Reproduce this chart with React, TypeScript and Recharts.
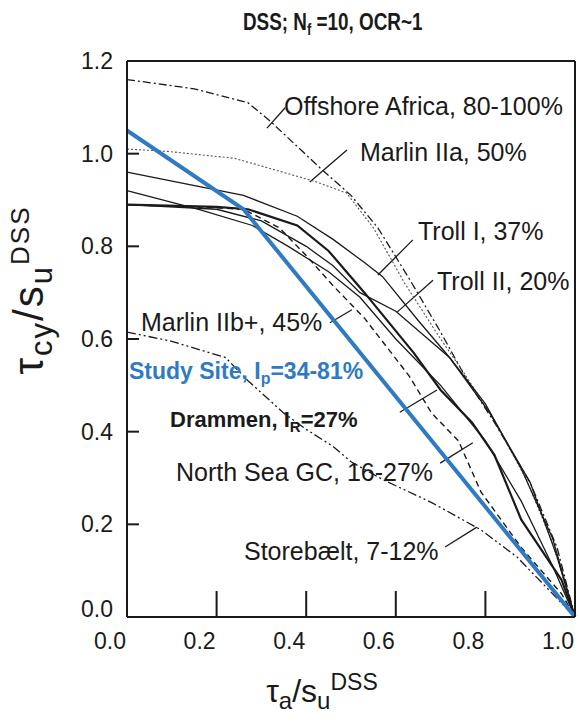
import { LineChart, Line, XAxis, YAxis, ReferenceLine } from 'recharts';

const FONT = '"Liberation Sans", Arial, Helvetica, sans-serif';
const INK = '#1a1a1a';
const BLUE = '#2f7bc3';

const xTicks = [0, 0.2, 0.4, 0.6, 0.8, 1.0];
const yTicks = [0, 0.2, 0.4, 0.6, 0.8, 1.0, 1.2];

// each curve as [tau_a / su, tau_cy / su] pairs
const offshoreAfrica = [
  [0, 1.16], [0.15, 1.14], [0.27, 1.11], [0.32, 1.07], [0.43, 0.97], [0.5, 0.91],
  [0.56, 0.84], [0.63, 0.73], [0.7, 0.615], [0.76, 0.51], [0.82, 0.42], [0.9, 0.29],
  [0.96, 0.15], [1, 0],
];
const marlinIIa = [
  [0, 1.01], [0.09, 1.005], [0.24, 0.99], [0.42, 0.94], [0.49, 0.915], [0.55, 0.84],
  [0.62, 0.72], [0.7, 0.6], [0.75, 0.53], [0.81, 0.44], [0.89, 0.3], [0.95, 0.16], [1, 0],
];
const trollI = [
  [0, 0.96], [0.26, 0.91], [0.38, 0.865], [0.46, 0.815], [0.53, 0.765], [0.57, 0.735],
  [0.65, 0.64], [0.72, 0.56], [0.8, 0.46], [0.88, 0.32], [0.95, 0.17], [1, 0],
];
const trollII = [
  [0, 0.89], [0.2, 0.88], [0.3, 0.855], [0.4, 0.8], [0.46, 0.758], [0.52, 0.7],
  [0.6, 0.66], [0.72, 0.56], [0.81, 0.44], [0.9, 0.29], [0.96, 0.13], [1, 0],
];
const marlinIIb = [
  [0, 0.92], [0.16, 0.88], [0.28, 0.845], [0.36, 0.8], [0.45, 0.745], [0.52, 0.69],
  [0.6, 0.6], [0.7, 0.5], [0.8, 0.38], [0.88, 0.25], [0.95, 0.11], [1, 0],
];
const drammen = [
  [0, 0.89], [0.2, 0.885], [0.27, 0.88], [0.38, 0.845], [0.45, 0.79], [0.53, 0.7],
  [0.64, 0.57], [0.7, 0.49], [0.77, 0.42], [0.82, 0.35], [0.88, 0.21], [0.97, 0.08], [1, 0],
];
const northSeaGC = [
  [0, 0.89], [0.16, 0.885], [0.26, 0.88], [0.34, 0.84], [0.4, 0.78], [0.46, 0.715],
  [0.53, 0.645], [0.63, 0.52], [0.68, 0.44], [0.74, 0.38], [0.79, 0.27], [0.88, 0.15],
  [0.97, 0.05], [1, 0],
];
const storebaelt = [
  [0, 0.615], [0.1, 0.595], [0.22, 0.56], [0.27, 0.51], [0.35, 0.44], [0.4, 0.405],
  [0.46, 0.368], [0.5, 0.335], [0.57, 0.297], [0.68, 0.247], [0.79, 0.188], [0.87, 0.13],
  [0.98, 0.02], [1, 0],
];
const studySite = [[0, 1.05], [0.26, 0.88], [1, 0]];

// label leader lines, start -> end
const leaders = [
  [[0.353, 1.099], [0.3125, 1.055]],
  [[0.491, 1.008], [0.408, 0.939]],
  [[0.638, 0.814], [0.56, 0.738]],
  [[0.683, 0.727], [0.603, 0.658]],
  [[0.453, 0.635], [0.502, 0.663]],
  [[0.609, 0.442], [0.692, 0.49]],
  [[0.699, 0.332], [0.772, 0.376]],
  [[0.71, 0.151], [0.781, 0.194]],
];

const toPoints = (pairs: number[][]) => pairs.map(([x, y]) => ({ x, y }));

const series = [
  { name: 'Storebælt', pts: storebaelt, width: 1.3, dash: '9 3 2 3 2 3', color: INK },
  { name: 'Offshore Africa', pts: offshoreAfrica, width: 1.3, dash: '8 3 2 3', color: INK },
  { name: 'Marlin IIa', pts: marlinIIa, width: 1.1, dash: '2 2', color: '#555' },
  { name: 'Troll I', pts: trollI, width: 1.3, dash: undefined, color: INK },
  { name: 'Troll II', pts: trollII, width: 1.3, dash: undefined, color: INK },
  { name: 'Marlin IIb+', pts: marlinIIb, width: 1.3, dash: undefined, color: INK },
  { name: 'North Sea GC', pts: northSeaGC, width: 1.4, dash: '6 4', color: INK },
  { name: 'Drammen', pts: drammen, width: 2.2, dash: undefined, color: INK },
  { name: 'Study Site', pts: studySite, width: 4, dash: undefined, color: BLUE },
];

const BottomTick = (props: any) => {
  const { x, y, payload } = props;
  return (
    <text x={x - 17} y={y} dy={32} textAnchor="middle" fontSize={23} fontFamily={FONT} fill={INK}>
      {payload.value.toFixed(1)}
    </text>
  );
};

const LeftTick = (props: any) => {
  const { x, y, payload } = props;
  const lift = payload.value === 0 ? -8 : 0;
  return (
    <text x={x - 14} y={y + lift} dy={8} textAnchor="end" fontSize={23} fontFamily={FONT} fill={INK}>
      {payload.value.toFixed(1)}
    </text>
  );
};

const Note = ({ left, top, size = 25, bold = false, color = INK, squeeze = 1, children }: any) => (
  <div
    style={{
      position: 'absolute',
      left,
      top: top - size * 0.13,
      fontSize: size,
      lineHeight: 1,
      fontWeight: bold ? 700 : 400,
      color,
      whiteSpace: 'nowrap',
      transform: squeeze !== 1 ? `scaleX(${squeeze})` : undefined,
      transformOrigin: 'left center',
    }}
  >
    {children}
  </div>
);

const sub = (t: string, size: number) => (
  <span style={{ fontSize: size, verticalAlign: '-0.3em' }}>{t}</span>
);
const sup = (t: string, size: number) => (
  <span style={{ fontSize: size, verticalAlign: '0.55em' }}>{t}</span>
);

export default function App() {
  return (
    <div
      style={{
        position: 'absolute',
        left: 0,
        top: 0,
        width: 579,
        height: 725,
        background: '#fff',
        fontFamily: FONT,
      }}
    >
      <LineChart width={579} height={725} margin={{ top: 41, right: 0, bottom: 58, left: 67 }}>
        <XAxis
          dataKey="x"
          type="number"
          domain={[0, 1]}
          ticks={xTicks}
          interval={0}
          height={50}
          stroke={INK}
          strokeWidth={2}
          tickSize={-26}
          tickMargin={26}
          tick={BottomTick}
          allowDuplicatedCategory={false}
        />
        <XAxis
          xAxisId="top"
          orientation="top"
          type="number"
          domain={[0, 1]}
          ticks={xTicks}
          interval={0}
          height={20}
          stroke={INK}
          strokeWidth={2}
          tickSize={-20}
          tickFormatter={() => ''}
        />
        <YAxis
          type="number"
          domain={[0, 1.2]}
          ticks={yTicks}
          interval={0}
          width={60}
          stroke={INK}
          strokeWidth={2}
          tickSize={-12}
          tickMargin={12}
          tick={LeftTick}
        />
        <YAxis
          yAxisId="right"
          orientation="right"
          type="number"
          domain={[0, 1.2]}
          ticks={yTicks}
          interval={0}
          width={4}
          stroke={INK}
          strokeWidth={2}
          tickSize={-15}
          tickFormatter={() => ''}
        />
        {leaders.map(([a, b], i) => (
          <ReferenceLine
            key={`leader-${i}`}
            segment={[{ x: a[0], y: a[1] }, { x: b[0], y: b[1] }]}
            stroke={INK}
            strokeWidth={1.3}
            ifOverflow="visible"
          />
        ))}
        {series.map((s) => (
          <Line
            key={s.name}
            name={s.name}
            data={toPoints(s.pts)}
            dataKey="y"
            type="linear"
            stroke={s.color}
            strokeWidth={s.width}
            strokeDasharray={s.dash}
            dot={false}
            activeDot={false}
            isAnimationActive={false}
          />
        ))}
      </LineChart>

      <Note left={243} top={14} size={23} bold squeeze={0.82}>
        DSS; N{sub('f', 16)} =10, OCR~1
      </Note>

      <Note left={284} top={97}>Offshore Africa, 80-100%</Note>
      <Note left={360} top={143}>Marlin IIa, 50%</Note>
      <Note left={418} top={222}>Troll I, 37%</Note>
      <Note left={437} top={272}>Troll II, 20%</Note>
      <Note left={141} top={313}>Marlin IIb+, 45%</Note>
      <Note left={129} top={363} size={23} bold color={BLUE}>
        Study Site, I{sub('p', 16)}=34-81%
      </Note>
      <Note left={170} top={412} size={22} bold>
        Drammen, I{sub('R', 15)}=27%
      </Note>
      <Note left={176} top={463}>North Sea GC, 16-27%</Note>
      <Note left={244} top={542}>Storebælt, 7-12%</Note>

      <div
        style={{
          position: 'absolute',
          left: 322,
          top: 692,
          transform: 'translate(-50%, -50%)',
          fontSize: 32,
          lineHeight: 1,
          color: INK,
          whiteSpace: 'nowrap',
        }}
      >
        τ{sub('a', 24)}/s{sub('u', 24)}{sup('DSS', 23)}
      </div>
      <div
        style={{
          position: 'absolute',
          left: 32,
          top: 290,
          transform: 'translate(-50%, -50%) rotate(-90deg)',
          fontSize: 42,
          lineHeight: 1,
          letterSpacing: 2,
          color: INK,
          whiteSpace: 'nowrap',
        }}
      >
        τ{sub('cy', 31)}/s{sub('u', 31)}{sup('DSS', 26)}
      </div>
    </div>
  );
}
